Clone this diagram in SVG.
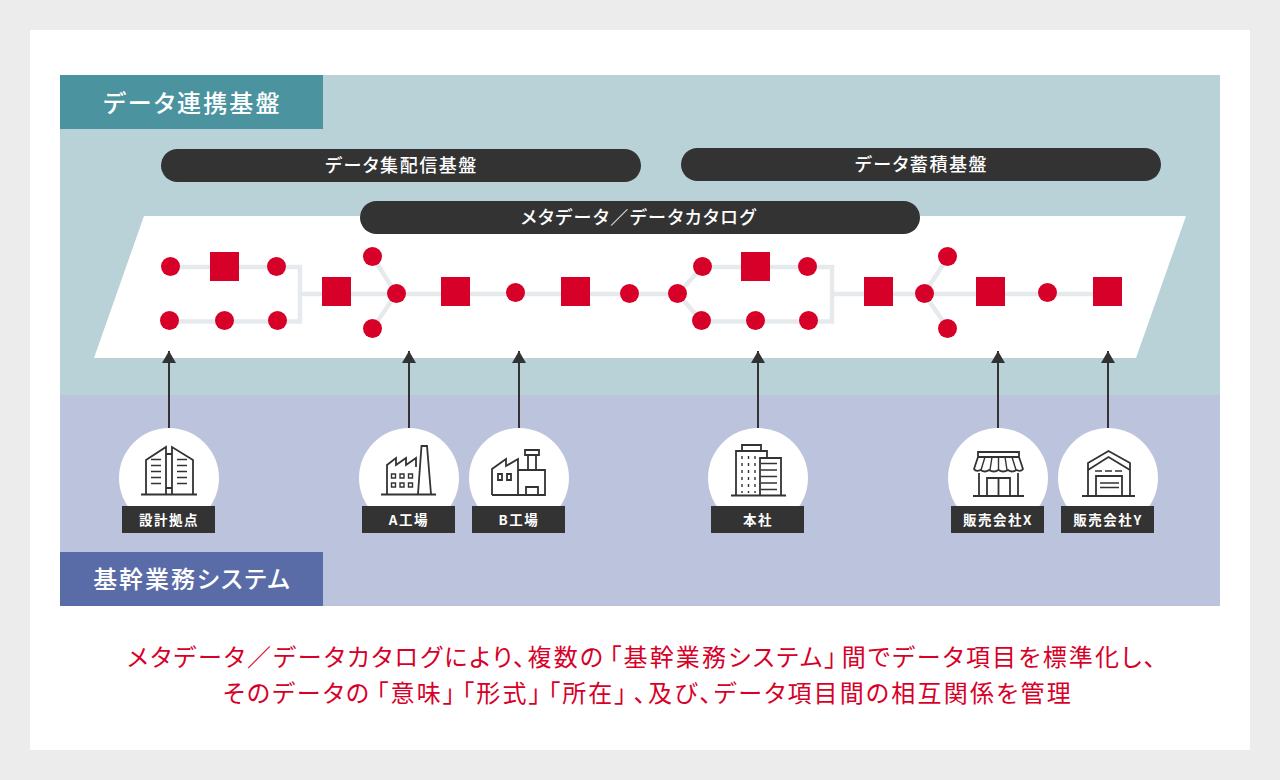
<svg xmlns="http://www.w3.org/2000/svg" width="1280" height="780" viewBox="0 0 1280 780">
<style>
.jp{font-family:"Noto Sans CJK JP","Noto Sans",sans-serif;font-feature-settings:"palt"}
.bar{fill:#333}
.pill{font-size:18px;font-weight:500;fill:#fff;text-anchor:middle;letter-spacing:1.55px}
.head{font-size:24px;font-weight:500;fill:#fff;text-anchor:middle;letter-spacing:2.2px}
.lab{font-size:13.5px;font-weight:700;fill:#fff;text-anchor:middle;letter-spacing:1.55px}
.msg{font-size:24px;font-weight:400;fill:#d70028;text-anchor:middle;letter-spacing:2.2px}
.link{fill:none;stroke:#e6eaed;stroke-width:4.5}
.n{fill:#d70028}
.up{fill:none;stroke:#333;stroke-width:2;marker-end:url(#a)}
.ic{fill:none;stroke:#333;stroke-width:1.8}
.ic2{fill:none;stroke:#333;stroke-width:1.4}
.w{fill:#fff}
</style>
<defs><marker id="a" markerUnits="userSpaceOnUse" markerWidth="12" markerHeight="14" refX="12" refY="7" orient="auto" viewBox="0 0 12 14"><path d="M0 0L12 7L0 14Z" fill="#333"/></marker></defs>
<rect width="1280" height="780" fill="#ececec"/>
<rect x="30" y="30" width="1220" height="720" fill="#fff"/>
<rect x="60" y="75" width="1160" height="320" fill="#b8d2d7"/>
<rect x="60" y="395" width="1160" height="211" fill="#bcc3dc"/>
<polygon points="144,216 1186,216 1136,358 94,358" fill="#fff"/>
<g id="header-top"><rect x="60" y="75" width="263" height="54" fill="#4b949f"/><text class="jp head" x="192.500" y="112">データ連携基盤</text></g>
<g id="header-bottom"><rect x="60" y="552" width="263" height="54" fill="#5a6ca8"/><text class="jp head" x="192.500" y="588" style="letter-spacing:1.9px">基幹業務システム</text></g>
<g id="pill-delivery"><rect class="bar" x="161" y="149" width="480" height="33" rx="16.500"/><text class="jp pill" x="401.500" y="171.500">データ集配信基盤</text></g>
<g id="pill-storage"><rect class="bar" x="681" y="148" width="480" height="33" rx="16.500"/><text class="jp pill" x="921.500" y="170.500">データ蓄積基盤</text></g>
<g id="pill-catalog"><rect class="bar" x="360" y="201" width="560" height="33" rx="16.500"/><text class="jp pill" x="639" y="223.500">メタデータ／データカタログ</text></g>
<g id="connectors">
<path class="link" d="M170 267H300V321.500H170M300 294H678L702 267H832V321.500H702L678 294M832 294H1108M373 257L396 294L373 328M948 257L924 294L948 328"/>
<line class="up" x1="169" y1="428" x2="169" y2="351"/>
<line class="up" x1="409" y1="428" x2="409" y2="351"/>
<line class="up" x1="519" y1="428" x2="519" y2="351"/>
<line class="up" x1="758" y1="428" x2="758" y2="351"/>
<line class="up" x1="998" y1="428" x2="998" y2="351"/>
<line class="up" x1="1108" y1="428" x2="1108" y2="351"/>
</g>
<g id="nodes" class="n">
<g id="n1"><circle cx="170.500" cy="266.500" r="9.500"/></g>
<g id="n2"><rect x="210" y="252" width="29" height="29"/></g>
<g id="n3"><circle cx="276.500" cy="266.500" r="9.500"/></g>
<g id="n4"><circle cx="169.500" cy="320.500" r="9.500"/></g>
<g id="n5"><circle cx="224.500" cy="320.500" r="9.500"/></g>
<g id="n6"><circle cx="277.500" cy="320.500" r="9.500"/></g>
<g id="n7"><rect x="322" y="277" width="29" height="29"/></g>
<g id="n8"><circle cx="372.500" cy="256.500" r="9.500"/></g>
<g id="n9"><circle cx="396.500" cy="293.500" r="9.500"/></g>
<g id="n10"><circle cx="372.500" cy="328.500" r="9.500"/></g>
<g id="n11"><rect x="441" y="277" width="29" height="29"/></g>
<g id="n12"><circle cx="515.500" cy="292.500" r="9.500"/></g>
<g id="n13"><rect x="561" y="277" width="29" height="29"/></g>
<g id="n14"><circle cx="629.500" cy="293.500" r="9.500"/></g>
<g id="n15"><circle cx="677.500" cy="293.500" r="9.500"/></g>
<g id="n16"><circle cx="702.500" cy="266.500" r="9.500"/></g>
<g id="n17"><rect x="741" y="252" width="29" height="29"/></g>
<g id="n18"><circle cx="807.500" cy="266.500" r="9.500"/></g>
<g id="n19"><circle cx="701.500" cy="320.500" r="9.500"/></g>
<g id="n20"><circle cx="755.500" cy="320.500" r="9.500"/></g>
<g id="n21"><circle cx="808.500" cy="320.500" r="9.500"/></g>
<g id="n22"><rect x="864" y="277" width="29" height="29"/></g>
<g id="n23"><circle cx="947.500" cy="256.500" r="9.500"/></g>
<g id="n24"><circle cx="924.500" cy="293.500" r="9.500"/></g>
<g id="n25"><circle cx="947.500" cy="328.500" r="9.500"/></g>
<g id="n26"><rect x="976" y="277" width="29" height="29"/></g>
<g id="n27"><circle cx="1047.500" cy="292.500" r="9.500"/></g>
<g id="n28"><rect x="1093" y="277" width="29" height="29"/></g>
</g>
<g id="site-design">
<circle class="w" cx="169" cy="478" r="50"/>
<path class="ic" d="M141 494.500H197M146 494V460L166 447V494M172 494V447L193 460V494M166 454H172M166 488H172"/>
<path class="ic2" d="M151 459.500H161M151 465.500H161M151 471.500H161M151 477.500H161M151 483.500H161M177 459.500H187M177 465.500H187M177 471.500H187M177 477.500H187M177 483.500H187"/>
<rect class="bar" x="122" y="506" width="93" height="27"/><text class="jp lab" x="169" y="524.500">設計拠点</text>
</g>
<g id="site-a">
<circle class="w" cx="409" cy="478" r="50"/>
<path class="ic" d="M381 494.500H436M387 494V465L396 458V465L406 458V465L416 458V467M418 494L421.500 446H427L431 494"/>
<path class="ic2" d="M391.500 474h4v4h-4zM400 474h4v4h-4zM408.500 474h4v4h-4zM391.500 483h4v4h-4zM400 483h4v4h-4zM408.500 483h4v4h-4z"/>
<rect class="bar" x="362" y="506" width="93" height="27"/><text class="jp lab" x="409" y="524.500">A工場</text>
</g>
<g id="site-b">
<circle class="w" cx="519" cy="478" r="50"/>
<path class="ic" d="M492 495V469L506 459V466L518 459V495M518 470H545V495H492M526 495V487H538V495M528 470V455M536 470V455M525 450H539V455H525Z"/>
<path class="ic" d="M498 474h4v6h-4zM507 474h4v6h-4z"/>
<rect class="bar" x="472" y="506" width="93" height="27"/><text class="jp lab" x="519" y="524.500">B工場</text>
</g>
<g id="site-hq">
<circle class="w" cx="758" cy="478" r="50"/>
<path class="ic" d="M731 495.500H786M736 495V451H767V458M742 451V445H761V451M760 495V458H781V495"/>
<path class="ic2" d="M761 463.500H777M761 470H777M761 476.500H777M761 483H777M761 489.500H777"/>
<path class="ic2" stroke-dasharray="3 4" d="M742 456V493M748.500 456V493M755 456V493"/>
<rect class="bar" x="711" y="506" width="93" height="27"/><text class="jp lab" x="758" y="524.500">本社</text>
</g>
<g id="site-x">
<circle class="w" cx="998" cy="478" r="50"/>
<path class="ic" d="M973 496H1024M979 496V473M1018 496V473M987 496V478H1010V496M998.500 478V496M978 452H1019V457H978ZM978 457L974 469Q976 472 980.500 470Q985 473 989 470Q994 473 998.500 470Q1003 473 1008 470Q1012 473 1016.500 470Q1021 472 1023 469L1019 457"/>
<path class="ic2" d="M985 457L981 470M992 457L990 470M998.500 457V470M1005 457L1007 470M1012 457L1016 470"/>
<rect class="bar" x="951" y="506" width="93" height="27"/><text class="jp lab" x="998" y="524.500">販売会社X</text>
</g>
<g id="site-y">
<circle class="w" cx="1108" cy="478" r="50"/>
<path class="ic" d="M1082 496H1135M1088 496V463L1108.500 451L1130 463V496M1088 470L1108.500 457L1130 470M1096 496V476H1122V496"/>
<path class="ic2" d="M1100 483H1119M1100 487.500H1119M1095 471H1102M1105 471H1112M1115 471H1122"/>
<rect class="bar" x="1061" y="506" width="93" height="27"/><text class="jp lab" x="1108" y="524.500">販売会社Y</text>
</g>
<text class="jp msg" x="642.500" y="666">メタデータ／データカタログにより、複数の<tspan dx="4">「</tspan>基幹業務システム」<tspan dx="3">間</tspan>でデータ項目を標準化し、</text>
<text class="jp msg" x="648" y="702">そのデータの<tspan dx="5">「</tspan>意味」<tspan dx="5">「</tspan>形式」<tspan dx="5">「</tspan>所在」<tspan dx="5">、</tspan>及び、データ項目間の相互関係を管理</text>
</svg>
